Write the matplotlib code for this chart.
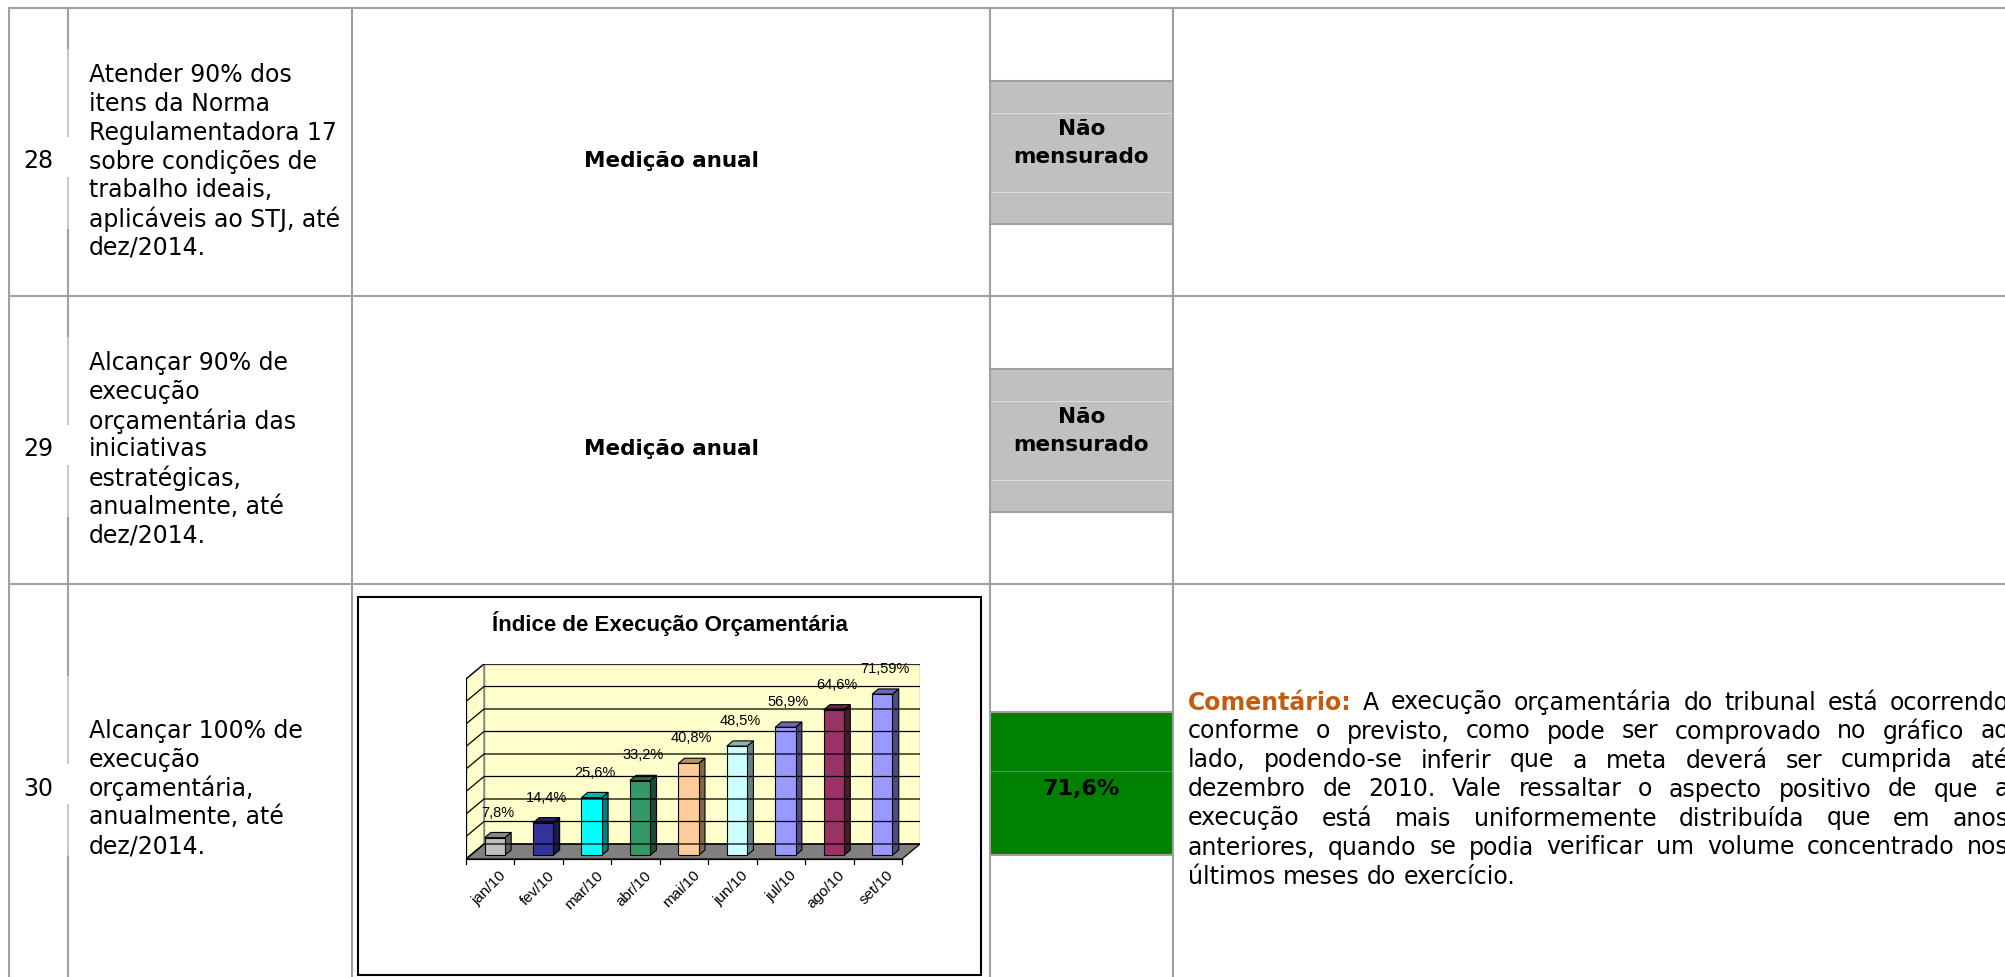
import matplotlib
matplotlib.use("Agg")
import matplotlib.pyplot as plt
from matplotlib.patches import Rectangle, Polygon
from matplotlib.colors import to_rgb

W, H = 2006, 978

# table data
meta_ids = ["28", "29", "30"]
meta_text = [
    ["Atender 90% dos", "itens da Norma", "Regulamentadora 17", "sobre condições de",
     "trabalho ideais,", "aplicáveis ao STJ, até", "dez/2014."],
    ["Alcançar 90% de", "execução", "orçamentária das", "iniciativas",
     "estratégicas,", "anualmente, até", "dez/2014."],
    ["Alcançar 100% de", "execução", "orçamentária,", "anualmente, até", "dez/2014."],
]
medicao = ["Medição anual", "Medição anual", None]
status_text = [["Não", "mensurado"], ["Não", "mensurado"], ["71,6%"]]
status_colors = ["#c0c0c0", "#c0c0c0", "#008000"]

# chart data
months = ["jan/10", "fev/10", "mar/10", "abr/10", "mai/10", "jun/10", "jul/10", "ago/10", "set/10"]
execucao = [7.8, 14.4, 25.6, 33.2, 40.8, 48.5, 56.9, 64.6, 71.59]
exec_labels = ["7,8%", "14,4%", "25,6%", "33,2%", "40,8%", "48,5%", "56,9%", "64,6%", "71,59%"]
bar_colors = ["#c0c0c0", "#333399", "#00ffff", "#339966", "#ffcc99",
              "#ccffff", "#9999ff", "#993366", "#9999ff"]
grid_values = [0, 10, 20, 30, 40, 50, 60, 70, 80]
chart_title = "Índice de Execução Orçamentária"

comentario_head = "Comentário:"
comentario_lines = [
    "A execução orçamentária do tribunal está ocorrendo",
    "conforme o previsto, como pode ser comprovado no gráfico ao",
    "lado, podendo-se inferir que a meta deverá ser cumprida até",
    "dezembro de 2010. Vale ressaltar o aspecto positivo de que a",
    "execução está mais uniformemente distribuída que em anos",
    "anteriores, quando se podia verificar um volume concentrado nos",
    "últimos meses do exercício.",
]

# layout (pixels)
col_x = [9, 68, 352, 990, 1173]
row_top = [9, 297, 585]
num_y = [159, 447, 786]
mid_line = [3, 3, 2]
line_h = 28.75
LINE = "#a0a0a0"
LIGHT = "#c8c8c8"
FONT = "DejaVu Sans"
CHART_FONT = "Liberation Sans"


def shade(c, f):
    r, g, b = to_rgb(c)
    return (r * f, g * f, b * f)


fig = plt.figure(figsize=(W / 100, H / 100), dpi=100)
ax = fig.add_axes([0, 0, 1, 1])
ax.set_xlim(0, W)
ax.set_ylim(H, 0)
ax.axis("off")

# status boxes
box_tops = [row_top[0] + 73, row_top[1] + 73, row_top[2] + 128]
for r in range(3):
    top = box_tops[r]
    ax.add_patch(Rectangle((col_x[3], top), col_x[4] - col_x[3], 143,
                           fc=status_colors[r], ec="none", zorder=1))
    ax.plot([col_x[3], col_x[4]], [top, top], color=LINE, lw=1.5, zorder=2)
    ax.plot([col_x[3], col_x[4]], [top + 143, top + 143], color=LINE, lw=1.5, zorder=2)
    if r < 2:
        for dy in (32, 111):
            ax.plot([col_x[3], col_x[4]], [top + dy, top + dy], color="#dcdcdc", lw=0.8, zorder=2)
    else:
        ax.plot([col_x[3], col_x[4]], [top + 59, top + 59], color="#3f9f3f", lw=0.8, zorder=2)
    cx = (col_x[3] + col_x[4]) / 2
    if len(status_text[r]) == 2:
        ax.text(cx, top + 45, status_text[r][0], ha="center", va="center_baseline",
                fontsize=15.5, fontweight="bold", family=FONT, zorder=3)
        ax.text(cx, top + 73, status_text[r][1], ha="center", va="center_baseline",
                fontsize=15.5, fontweight="bold", family=FONT, zorder=3)
    else:
        ax.text(cx, 787, status_text[r][0], ha="center", va="center_baseline",
                fontsize=16, fontweight="bold", family=FONT, zorder=3)

# grid lines of the table
for y in row_top:
    ax.plot([col_x[0], W], [y, y], color=LINE, lw=1.5, zorder=4)
for x in [col_x[0], col_x[2], col_x[3], col_x[4]]:
    ax.plot([x, x], [row_top[0], H], color=LINE, lw=1.5, zorder=4)

# first column separator: lighter and broken next to the numbers
for r in range(3):
    t = row_top[r]
    b = row_top[r + 1] if r < 2 else H
    n = num_y[r]
    ax.plot([col_x[1]] * 2, [t, n - 108], color=LINE, lw=1.5, zorder=4)
    ax.plot([col_x[1]] * 2, [n - 108, n - 22], color=LIGHT, lw=1.5, zorder=4)
    ax.plot([col_x[1]] * 2, [n + 20, n + 72], color=LIGHT, lw=1.5, zorder=4)
    ax.plot([col_x[1]] * 2, [n + 72, b], color=LINE, lw=1.5, zorder=4)

# text of the first two columns
for r in range(3):
    n = num_y[r]
    ax.text(38, n, meta_ids[r], ha="center", va="center_baseline", fontsize=17, family=FONT)
    for k, s in enumerate(meta_text[r]):
        ax.text(89, n + (k - mid_line[r]) * line_h, s, ha="left", va="center_baseline",
                fontsize=17, family=FONT)
    if medicao[r]:
        ax.text((col_x[2] + col_x[3]) / 2, n, medicao[r], ha="center", va="center_baseline",
                fontsize=15.5, fontweight="bold", family=FONT)

# chart frame and title
ax.add_patch(Rectangle((358, 598), 623, 378, fc="white", ec="black", lw=1.5, zorder=5))
ax.text(670, 624, chart_title, ha="center", va="center", fontsize=16, fontweight="bold",
        family=CHART_FONT, zorder=6)

# 3d column chart drawn in its own axes
cat_px = 436 / 9
val_px = 2.25
cax = fig.add_axes([466 / W, (H - 860) / H, 454 / W, 195 / H], zorder=10)
cax.set_xlim(-0.5, -0.5 + 454 / cat_px)
cax.set_ylim(0, 195 / val_px)
cax.axis("off")
DX = 18 / cat_px
DY = 15 / val_px
x0, x1 = -0.5, len(months) - 0.5
vmax = grid_values[-1]

cax.add_patch(Rectangle((x0 + DX, DY), x1 - x0, vmax, fc="#ffffcc", ec="#808080", lw=1))
cax.add_patch(Polygon([(x0, 0), (x0 + DX, DY), (x0 + DX, DY + vmax), (x0, vmax)],
                      fc="#ffffcc", ec="#808080", lw=1))
for v in grid_values:
    cax.plot([x0, x0 + DX, x1 + DX], [v, v + DY, v + DY], color="black", lw=0.9)
cax.add_patch(Polygon([(x0, 0), (x1, 0), (x1 + DX, DY), (x0 + DX, DY)],
                      fc="#808080", ec="black", lw=0.9))
cax.plot([x0, x0], [0, vmax], color="black", lw=0.9)

t0, t1, w = 0.25, 0.6, 0.42
ddx, ddy = (t1 - t0) * DX, (t1 - t0) * DY
for i, (v, c) in enumerate(zip(execucao, bar_colors)):
    xa = i - w / 2 + t0 * DX
    ya = t0 * DY
    top = v + ya
    cax.add_patch(Polygon([(xa + w, ya), (xa + w + ddx, ya + ddy), (xa + w + ddx, top + ddy), (xa + w, top)],
                          fc=shade(c, 0.5), ec="black", lw=0.8))
    cax.add_patch(Polygon([(xa, top), (xa + w, top), (xa + w + ddx, top + ddy), (xa + ddx, top + ddy)],
                          fc=shade(c, 0.7), ec="black", lw=0.8))
    cax.add_patch(Rectangle((xa, ya), w, v, fc=c, ec="black", lw=0.8))
    cax.annotate(exec_labels[i], (i + (t0 + t1) / 2 * DX, top + ddy), xytext=(0, 15),
                 textcoords="offset points", ha="center", va="center", fontsize=10.5,
                 family=CHART_FONT, annotation_clip=False)

# category axis
cax.plot([x0, x1], [0, 0], color="black", lw=0.9, clip_on=False)
for k in range(len(months) + 1):
    cax.plot([x0 + k, x0 + k], [0, -5 / val_px], color="black", lw=0.9, clip_on=False)
for i, m in enumerate(months):
    cax.annotate(m, (i, 0), xytext=(6, -6), textcoords="offset points", rotation=45,
                 rotation_mode="anchor", ha="right", va="top", fontsize=11,
                 family=CHART_FONT, annotation_clip=False)

# comment, justified between the margins
renderer = fig.canvas.get_renderer()


def text_width(s, **kw):
    t = ax.text(0, 0, s, **kw)
    wpx = t.get_window_extent(renderer).width
    t.remove()
    return wpx


left, right = 1188, 2009
fs = 17.0
head_kw = dict(fontweight="bold", color="#c45c10")


def line_words(k, size):
    words = [(wd, {}) for wd in comentario_lines[k].split()]
    if k == 0:
        words = [(comentario_head, head_kw)] + words
    return [(wd, kw, text_width(wd, fontsize=size, family=FONT, **kw)) for wd, kw in words]


space = text_width("a a", fontsize=fs, family=FONT) - text_width("aa", fontsize=fs, family=FONT)
natural = []
for k in range(len(comentario_lines) - 1):
    ws = line_words(k, fs)
    natural.append(sum(x[2] for x in ws) + space * (len(ws) - 1))
fs = fs * min(1.0, (right - left - 6) / max(natural))

com_y0 = 787 - 3 * 29
for k in range(len(comentario_lines)):
    ws = line_words(k, fs)
    y = com_y0 + 29 * k
    if k < len(comentario_lines) - 1:
        gap = (right - left - sum(x[2] for x in ws)) / (len(ws) - 1)
    else:
        gap = space * fs / 17.0
    x = left
    for wd, kw, wpx in ws:
        ax.text(x, y, wd, ha="left", va="center_baseline", fontsize=fs, family=FONT, **kw)
        x += wpx + gap

fig.savefig("out.png", dpi=100)
